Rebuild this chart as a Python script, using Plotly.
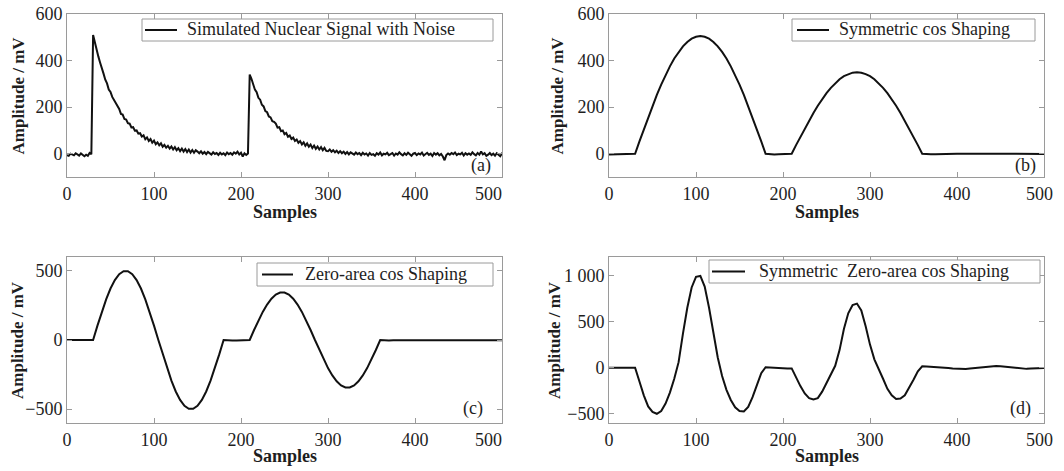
import plotly.graph_objects as go

# ---------------- data ----------------
signal_noise = [
    -6, -9, 0, -4, -7, 2, -3, -8, 1, -5, -11, -4, -9, 3, -2,
    510, 476, 455, 418, 392, 362, 344, 318, 302, 276, 265, 244, 231, 212, 203,
    192, 171, 168, 149, 147, 131, 129, 113, 114, 99, 100, 86, 88, 74, 79,
    62, 70, 55, 63, 47, 56, 41, 49, 36, 45, 30, 38, 26, 34, 22,
    31, 18, 28, 15, 24, 11, 22, 9, 20, 7, 18, 5, 16, 4, 15,
    9, 2, 10, 0, 7, -2, 8, 1, -4, 6, -1, 3, -5, 4, -3,
    2, -6, 5, -2, 3, -4, 6, 0, 9, -3, 4, -12, 2, -5, 1,
    340, 322, 300, 275, 264, 240, 232, 210, 203, 183, 178, 160, 156, 140, 137,
    129, 112, 114, 97, 100, 84, 89, 73, 78, 63, 69, 55, 61, 47, 54,
    40, 49, 34, 44, 30, 39, 24, 35, 21, 31, 18, 28, 15, 25, 12,
    11, 18, 8, 15, 6, 13, 3, 11, 2, 9, -1, 7, -3, 6, 0,
    -4, 5, -2, 3, -6, 4, -3, 1, -8, 3, -5, -2, -9, 2, -4,
    5, -7, 0, -3, 4, -6, -2, 3, -8, 1, -4, 6, -2, -7, 2,
    -5, 4, -1, -9, 0, 3, -6, 1, -3, 5, -8, -2, 4, -5, 0,
    -10, 3, -4, 2, -7, -1, -12, -28, -6, 1, -4, 3, -2, 5, -6,
    0, -3, 4, -8, 2, -4, 1, -5, 6, -2, -7, 3, -4, 10, -3,
    2, -9, -4, 3, -6, 0, -8, 2, -4, -11, 1, -5, 4, -7, 0,
    -3,
]

sym_cos = [
    -3, -3, -3, -3, -3, -3,
    0, 53, 105, 156, 205, 253, 297, 338, 375, 409, 437, 461, 480, 494, 502, 505,
    502, 494, 480, 461, 437, 409, 375, 338, 297, 253, 205, 156, 105, 53, 0,
    -2, -3, -2, -1, -1,
    0, 37, 73, 108, 142, 175, 206, 234, 260, 283, 303, 320, 333, 342, 348, 350,
    348, 342, 333, 320, 303, 283, 260, 234, 206, 175, 142, 108, 73, 37, 0,
    -2, -2, -2, -1, -1, -1, -1, 0, 0, 0, -1, -1, -2, -2, -2, -2, -1, -1, 0, 0,
    1, 1, 1, 1, 0, 0, 0, 0, -1, -1,
]

zero_area_cos = [
    0, 0, 0, 0, 0, 0,
    0, 104, 203, 294, 372, 433, 476, 497, 497, 476, 433, 372, 294, 203, 104, 0,
    -104, -203, -294, -372, -433, -476, -497, -497, -476, -433, -372, -294, -203, -104, 0,
    -4, -3, -3, -2, -2,
    0, 72, 140, 203, 256, 299, 328, 343, 343, 328, 299, 256, 203, 140, 72, 0,
    -72, -140, -203, -256, -299, -328, -343, -343, -328, -299, -256, -203, -140, -72, 0,
    -3, -3, -2, -2, -1, -1, 0, 0, 1, 1, 2, 2, 3, 3, 3, 3, 2, 2, 2, 1,
    1, 1, 0, 0, 0, 0, 0, 0, -1, -1,
]

sym_zero_area_cos = [
    0, 0, 0, 0, 0, 0,
    0, -150, -300, -420, -480, -500, -470, -390, -270, -120, 60, 370, 650, 870, 985, 995,
    880, 650, 390, 110, -90, -240, -350, -430, -470, -475, -425, -320, -190, -60, 5,
    2, -5, -8, -8, -8,
    -8, -110, -200, -280, -330, -345, -330, -260, -170, -80, 20, 190, 420, 590, 680, 695,
    620, 450, 250, 90, -10, -120, -230, -300, -340, -335, -300, -220, -130, -40, 15,
    12, 10, 8, 5, 2, -3, -8, -12, -15, -14, -10, -5, 2, 8, 13, 16, 17, 16, 12, 5,
    -2, -8, -12, -13, -10, -8, -5, -2, 0, 0,
]

samples_noise = [2 * i for i in range(len(signal_noise))]
samples_shaped = [5 * i for i in range(len(sym_cos))]

x_ticks = [0, 100, 200, 300, 400, 500]
x_labels_left = ["0", "100", "200", "300", "400", "500\u2002\u2002\u2002"]
x_labels_right = ["0", "100", "200", "300", "400", "500\u2002"]
y_ticks_top = [0, 200, 400, 600]
y_labels_top = ["0", "200", "400", "600"]
y_ticks_c = [-500, 0, 500]
y_labels_c = ["\u2212500", "0", "500"]
y_ticks_d = [-500, 0, 500, 1000]
y_labels_d = ["\u2212500", "0", "500", "1 000"]

series_names = [
    "Simulated Nuclear Signal with Noise",
    "Symmetric cos Shaping",
    "Zero-area cos Shaping",
    "Symmetric\u00a0 Zero-area cos Shaping",
]
panel_tags = ["(a)", "(b)", "(c)", "(d)"]

# ---------------- layout helpers ----------------
W, H = 1064, 471
SERIF = "Liberation Serif, Times New Roman, DejaVu Serif, serif"
FRAME = "#9a9a9a"
TXT = "#1e1e1e"


def fx(p):
    return p / W


def fy(p):
    return 1 - p / H


panels = [
    dict(x=samples_noise, y=signal_noise, box=(67, 502, 14, 177), yr=[-100, 600],
         xt=x_labels_left, tv=y_ticks_top, tt=y_labels_top,
         leg=(142, 493, 19, 41, 145, 177, 185),
         tag=(481, 166), ytitle_x=18, xtitle_y=212),
    dict(x=samples_shaped, y=sym_cos, box=(609, 1044, 14, 177), yr=[-100, 600],
         xt=x_labels_right, tv=y_ticks_top, tt=y_labels_top,
         leg=(792, 1035, 19, 41, 797, 829, 837),
         tag=(1025, 166), ytitle_x=557, xtitle_y=212),
    dict(x=samples_shaped, y=zero_area_cos, box=(67, 502, 257, 423), yr=[-600, 600],
         xt=x_labels_left, tv=y_ticks_c, tt=y_labels_c,
         leg=(257, 493, 263, 286, 262, 293, 303),
         tag=(473, 408), ytitle_x=17, xtitle_y=456),
    dict(x=samples_shaped, y=sym_zero_area_cos, box=(609, 1044, 257, 423), yr=[-600, 1200],
         xt=x_labels_right, tv=y_ticks_d, tt=y_labels_d,
         leg=(709, 1040, 260, 283, 712, 745, 757),
         tag=(1020, 408), ytitle_x=554, xtitle_y=456),
]

fig = go.Figure()
layout = dict(
    width=W, height=H, autosize=False,
    margin=dict(l=0, r=0, t=0, b=0, autoexpand=False),
    paper_bgcolor="white", plot_bgcolor="white",
    font=dict(family=SERIF, size=18, color=TXT),
    showlegend=False,
    annotations=[],
    shapes=[],
)

for i, p in enumerate(panels):
    n = "" if i == 0 else str(i + 1)
    fig.add_trace(go.Scatter(
        x=p["x"], y=p["y"], mode="lines", name=series_names[i],
        line=dict(color="#111111", width=2),
        xaxis="x" + n, yaxis="y" + n, showlegend=False,
    ))
    x0, x1, y0, y1 = p["box"]
    axis_common = dict(
        showline=True, linecolor=FRAME, linewidth=1, mirror="allticks",
        ticks="inside", ticklen=5, tickcolor=FRAME, tickwidth=1,
        showgrid=False, zeroline=False, automargin=False,
        ticklabeloverflow="allow",
        tickfont=dict(family=SERIF, size=18, color=TXT),
    )
    layout["xaxis" + n] = dict(
        domain=[fx(x0), fx(x1)], range=[0, 500], anchor="y" + n,
        tickmode="array", tickvals=x_ticks, ticktext=p["xt"], **axis_common,
    )
    layout["yaxis" + n] = dict(
        domain=[fy(y1), fy(y0)], range=p["yr"], anchor="x" + n,
        tickmode="array", tickvals=p["tv"], ticktext=p["tt"], **axis_common,
    )
    # legend box drawn in paper coordinates
    bx0, bx1, by0, by1, lx0, lx1, tx0 = p["leg"]
    layout["shapes"].append(dict(
        type="rect", xref="paper", yref="paper",
        x0=fx(bx0), x1=fx(bx1), y0=fy(by1), y1=fy(by0),
        line=dict(color=FRAME, width=1), fillcolor="white", layer="above",
    ))
    layout["shapes"].append(dict(
        type="line", xref="paper", yref="paper",
        x0=fx(lx0), x1=fx(lx1), y0=fy((by0 + by1) / 2), y1=fy((by0 + by1) / 2),
        line=dict(color="#111111", width=2), layer="above",
    ))
    layout["annotations"].append(dict(
        text=series_names[i], x=fx(tx0), y=fy((by0 + by1) / 2 - 0.5),
        xref="paper", yref="paper", showarrow=False,
        xanchor="left", yanchor="middle",
        font=dict(family=SERIF, size=18, color=TXT),
    ))
    # axis titles
    layout["annotations"].append(dict(
        text="<b>Samples</b>", x=fx((x0 + x1) / 2), y=fy(p["xtitle_y"]),
        xref="paper", yref="paper", showarrow=False,
        xanchor="center", yanchor="middle",
        font=dict(family=SERIF, size=18, color=TXT),
    ))
    layout["annotations"].append(dict(
        text="<b>Amplitude / mV</b>", x=fx(p["ytitle_x"]), y=fy((y0 + y1) / 2),
        xref="paper", yref="paper", showarrow=False, textangle=-90,
        xanchor="center", yanchor="middle",
        font=dict(family=SERIF, size=17, color=TXT),
    ))
    tx, ty = p["tag"]
    layout["annotations"].append(dict(
        text=panel_tags[i], x=fx(tx), y=fy(ty),
        xref="paper", yref="paper", showarrow=False,
        xanchor="center", yanchor="middle",
        font=dict(family=SERIF, size=18, color=TXT),
    ))

fig.update_layout(**layout)
fig.write_html(
    "out.html",
    config={"displayModeBar": False},
    post_script="document.body.style.margin='0';document.body.style.overflow='hidden';",
)
